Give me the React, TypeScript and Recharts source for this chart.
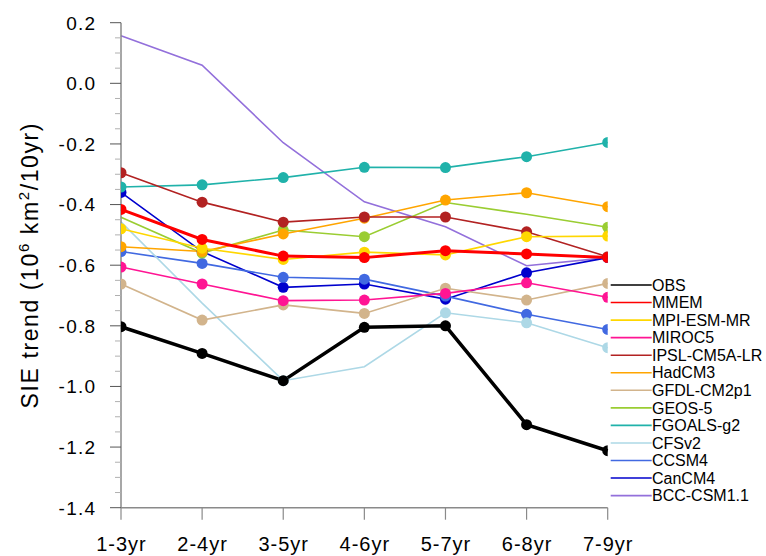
import React from 'react';
import { LineChart, Line, XAxis, YAxis, Legend } from 'recharts';

const CATEGORIES = ['1-3yr', '2-4yr', '3-5yr', '4-6yr', '5-7yr', '6-8yr', '7-9yr'];

const OBS = [-0.803, -0.891, -0.981, -0.805, -0.8, -1.126, -1.212];
const MMEM = [-0.416, -0.515, -0.57, -0.575, -0.552, -0.563, -0.575];
const MPI_ESM_MR = [-0.48, -0.544, -0.581, -0.557, -0.566, -0.506, -0.504];
const MIROC5 = [-0.606, -0.662, -0.717, -0.715, -0.693, -0.658, -0.706];
const IPSL_CM5A_LR = [-0.295, -0.392, -0.458, -0.441, -0.441, -0.49, -0.572];
const HADCM3 = [-0.539, -0.555, -0.497, -0.445, -0.385, -0.361, -0.407];
const GFDL_CM2P1 = [-0.662, -0.781, -0.731, -0.759, -0.676, -0.715, -0.66];
const GEOS_5 = [-0.442, -0.56, -0.484, -0.506, -0.393, -0.432, -0.475];
const FGOALS_G2 = [-0.342, -0.335, -0.311, -0.277, -0.278, -0.242, -0.195];
const CFSV2 = [-0.457, -0.725, -0.981, -0.935, -0.757, -0.79, -0.872];
const CCSM4 = [-0.555, -0.594, -0.64, -0.646, -0.702, -0.762, -0.812];
const CANCM4 = [-0.36, -0.555, -0.673, -0.662, -0.712, -0.625, -0.575];
const BCC_CSM1_1 = [0.157, 0.06, -0.196, -0.391, -0.473, -0.602, -0.575];

const Y_MAJOR_TICKS = [0.2, 0.0, -0.2, -0.4, -0.6, -0.8, -1.0, -1.2, -1.4];

const SERIES = [
  { name: 'OBS', values: OBS, color: '#000000', width: 3.5, r: 5.5, markers: 'all' },
  { name: 'MMEM', values: MMEM, color: '#ff0000', width: 3, r: 5.5, markers: 'all' },
  { name: 'MPI-ESM-MR', values: MPI_ESM_MR, color: '#ffd700', width: 1.6, r: 5.5, markers: 'all' },
  { name: 'MIROC5', values: MIROC5, color: '#ff1493', width: 1.6, r: 5.5, markers: 'all' },
  { name: 'IPSL-CM5A-LR', values: IPSL_CM5A_LR, color: '#b22222', width: 1.6, r: 5.5, markers: 'all' },
  { name: 'HadCM3', values: HADCM3, color: '#ffa500', width: 1.6, r: 5.5, markers: 'all' },
  { name: 'GFDL-CM2p1', values: GFDL_CM2P1, color: '#d2b48c', width: 1.6, r: 5.5, markers: 'all' },
  { name: 'GEOS-5', values: GEOS_5, color: '#9acd32', width: 1.6, r: 5.5, markers: [1, 2, 3, 6] },
  { name: 'FGOALS-g2', values: FGOALS_G2, color: '#20b2aa', width: 1.6, r: 5.5, markers: 'all' },
  { name: 'CFSv2', values: CFSV2, color: '#add8e6', width: 1.6, r: 5.5, markers: [2, 4, 5, 6] },
  { name: 'CCSM4', values: CCSM4, color: '#4169e1', width: 1.6, r: 5.5, markers: 'all' },
  { name: 'CanCM4', values: CANCM4, color: '#0000cd', width: 1.6, r: 5.5, markers: 'all' },
  { name: 'BCC-CSM1.1', values: BCC_CSM1_1, color: '#9370db', width: 1.6, r: 5.5, markers: 'none' },
];

const DATA = CATEGORIES.map((cat, i) => {
  const row: any = { cat };
  SERIES.forEach((s) => {
    row[s.name] = s.values[i];
  });
  return row;
});

const Y_TICKS: number[] = [];
Y_MAJOR_TICKS.forEach((v, i) => {
  Y_TICKS.push(v);
  if (i < Y_MAJOR_TICKS.length - 1) {
    for (let k = 1; k < 4; k++) Y_TICKS.push(+(v - k * 0.05).toFixed(2));
  }
});

const FONT = '"Liberation Sans", Arial, Helvetica, sans-serif';
const FRAME = '#8a8a8a';
const isMajor = (v: number) => Math.abs(v * 5 - Math.round(v * 5)) < 1e-6;

const LeftTick = (props: any) => {
  const { x, y, payload } = props;
  const major = isMajor(payload.value);
  return (
    <g>
      <line x1={x - (major ? 11 : 6)} x2={x} y1={y} y2={y} stroke={major ? '#555' : '#b0b0b0'} strokeWidth={1} />
      {major && (
        <text x={x - 24.5} y={y} dy={6.8} textAnchor="end" fontFamily={FONT} fontSize={19} letterSpacing={1.3} fill="#000">
          {payload.value.toFixed(1)}
        </text>
      )}
    </g>
  );
};

const RightTick = (props: any) => {
  const { x, y, payload } = props;
  const major = isMajor(payload.value);
  return <line x1={x} x2={x + (major ? 12 : 6)} y1={y} y2={y} stroke={major ? '#555' : '#b0b0b0'} strokeWidth={1} />;
};

const BottomTick = (props: any) => {
  const { x, y, payload } = props;
  return (
    <g>
      <line x1={x} x2={x} y1={y} y2={y + 12} stroke={FRAME} strokeWidth={1.2} />
      <text x={x + 0.5} y={y + 43.5} textAnchor="middle" fontFamily={FONT} fontSize={20} letterSpacing={1} fill="#000">
        {payload.value}
      </text>
    </g>
  );
};

const TopTick = (props: any) => {
  const { x, y } = props;
  return <line x1={x} x2={x} y1={y} y2={y - 12} stroke={FRAME} strokeWidth={1.2} />;
};

const renderTitle = (props: any) => {
  const vb = props.viewBox || { x: 0, y: 23, width: 121, height: 485 };
  const bx = vb.x + 38;
  const cy = vb.y + vb.height / 2;
  return (
    <text
      transform={`translate(${bx},${cy}) rotate(-90)`}
      x={0}
      y={0}
      textAnchor="middle"
      fontFamily={FONT}
      fontSize={23}
      letterSpacing={1.6}
      fill="#000"
    >
      SIE trend (10
      <tspan dy={-9} fontSize={15}>6</tspan>
      <tspan dy={9}> km</tspan>
      <tspan dy={-9} fontSize={15}>2</tspan>
      <tspan dy={9}>/10yr)</tspan>
    </text>
  );
};

const renderLegend = () => {
  const rowH = 17.55;
  return (
    <svg width={158} height={240} style={{ display: 'block' }}>
      {SERIES.map((s, i) => {
        const cy = 9 + i * rowH;
        return (
          <g key={s.name}>
            <line x1={2.7} x2={43.7} y1={cy} y2={cy} stroke={s.color} strokeWidth={1.6} />
            <text x={44} y={cy + 5.7} fontFamily={FONT} fontSize={16} fill="#000">
              {s.name}
            </text>
          </g>
        );
      })}
    </svg>
  );
};

// Markers on the first/last category sit on the frame and are cut in half by it.
const makeDot = (s: any) => {
  if (s.markers === 'none') return false;
  const last = CATEGORIES.length - 1;
  return (p: any) => {
    const k = `d-${s.name}-${p.index}`;
    const show = s.markers === 'all' || s.markers.includes(p.index);
    if (!show || p.cx == null || p.cy == null) return <g key={k} />;
    const { cx, cy } = p;
    const r = s.r;
    if (p.index === 0) {
      return <path key={k} d={`M${cx},${cy - r} A${r},${r} 0 0 1 ${cx},${cy + r} Z`} fill={s.color} />;
    }
    if (p.index === last) {
      return <path key={k} d={`M${cx},${cy - r} A${r},${r} 0 0 0 ${cx},${cy + r} Z`} fill={s.color} />;
    }
    return <circle key={k} cx={cx} cy={cy} r={r} fill={s.color} stroke="none" />;
  };
};

export default function App() {
  const drawOrder = [...SERIES].reverse();
  return (
    <div style={{ position: 'absolute', left: 0, top: 0, width: 766, height: 556, background: '#fff' }}>
      <LineChart width={766} height={556} data={DATA} margin={{ top: 22.7, right: 158.3, bottom: 0, left: 0 }}>
        <XAxis
          xAxisId="bottom"
          dataKey="cat"
          orientation="bottom"
          height={48.3}
          tickSize={0}
          tickMargin={0}
          tickLine={false}
          interval={0}
          axisLine={{ stroke: FRAME, strokeWidth: 1.5 }}
          tick={<BottomTick />}
        />
        <XAxis
          xAxisId="top"
          dataKey="cat"
          orientation="top"
          height={0}
          tickSize={0}
          tickMargin={0}
          tickLine={false}
          interval={0}
          axisLine={{ stroke: FRAME, strokeWidth: 1.5 }}
          tick={<TopTick />}
        />
        <YAxis
          yAxisId="left"
          orientation="left"
          width={121}
          domain={[-1.4, 0.2]}
          allowDataOverflow
          ticks={Y_TICKS}
          interval={0}
          tickSize={0}
          tickMargin={0}
          tickLine={false}
          axisLine={{ stroke: FRAME, strokeWidth: 1.5 }}
          tick={<LeftTick />}
          label={{ content: renderTitle }}
        />
        <YAxis
          yAxisId="right"
          orientation="right"
          width={0}
          domain={[-1.4, 0.2]}
          allowDataOverflow
          ticks={Y_TICKS}
          interval={0}
          tickSize={0}
          tickMargin={0}
          tickLine={false}
          axisLine={{ stroke: FRAME, strokeWidth: 1.5 }}
          tick={<RightTick />}
        />
        {drawOrder.map((s) => (
          <Line
            key={s.name}
            xAxisId="bottom"
            yAxisId="left"
            type="linear"
            dataKey={s.name}
            stroke={s.color}
            strokeWidth={s.width}
            dot={makeDot(s) as any}
            activeDot={false}
            isAnimationActive={false}
          />
        ))}
        <Legend
          layout="horizontal"
          verticalAlign="middle"
          align="center"
          content={renderLegend}
          wrapperStyle={{ left: 608, top: 276, width: 158, height: 240 }}
        />
      </LineChart>
    </div>
  );
}
